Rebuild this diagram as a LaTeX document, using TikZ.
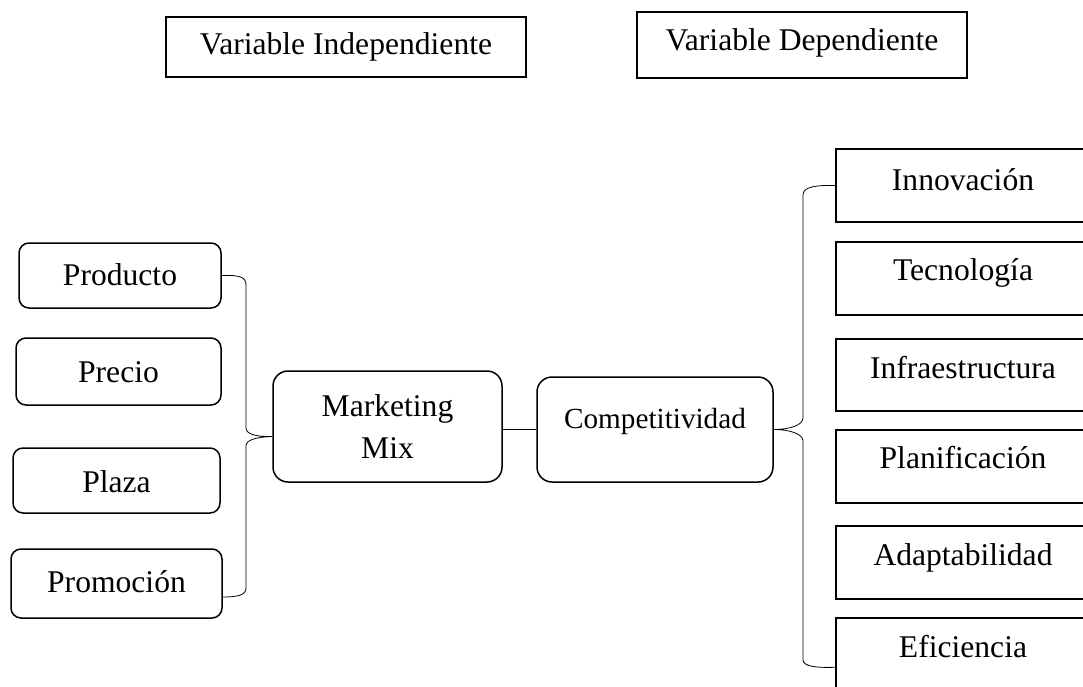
\documentclass[tikz,border=0pt]{standalone}
\usepackage{fontspec}
\setmainfont{Liberation Serif}
\begin{document}
\begin{tikzpicture}[x=1pt, y=-1pt,
  bx/.style={draw, line width=1.5pt, inner sep=0pt, anchor=base,
             font=\fontsize{31.6}{42}\selectfont},
  rbx/.style={bx, rounded corners=10pt},
  brc/.style={draw, line width=0.8pt},
  link/.style={draw, line width=0.9pt}]
\useasboundingbox (0,0) rectangle (1083,687);
\clip (0,0) rectangle (1083,687);

% headings
\node[bx, minimum width=360pt, text height=38pt, text depth=22pt] (vind) at (346,55) {Variable Independiente};
\node[bx, minimum width=330pt, text height=39pt, text depth=27pt] (vdep) at (802,51) {Variable Dependiente};

% marketing mix components
\node[rbx, minimum width=202pt, text height=42pt, text depth=23pt] (prod) at (120,285) {Producto};
\node[rbx, minimum width=205pt, text height=44pt, text depth=23pt] (prec) at (118.5,382) {Precio};
\node[rbx, minimum width=207pt, text height=44pt, text depth=21pt] (plaz) at (116.5,492) {Plaza};
\node[rbx, minimum width=211pt, text height=43pt, text depth=26pt] (prom) at (116.5,592) {Promoción};

% central concepts
\node[draw, line width=1.5pt, rounded corners=15pt, inner sep=0pt, align=center,
      minimum width=229pt, minimum height=111pt,
      font=\fontsize{31.6}{42}\selectfont] (mm) at (387.5,426.5) {Marketing\\Mix};
\node[bx, rounded corners=15pt, minimum width=236pt, text height=51pt, text depth=54pt,
      font=\fontsize{29.2}{42}\selectfont] (comp) at (655,428) {Competitividad};

% competitiveness dimensions
\node[bx, minimum width=254pt, text height=41pt, text depth=32pt] (inno) at (963,190) {Innovación};
\node[bx, minimum width=254pt, text height=38pt, text depth=35pt] (tecn) at (963,280) {Tecnología};
\node[bx, minimum width=254pt, text height=39pt, text depth=33pt] (infr) at (963,378) {Infraestructura};
\node[bx, minimum width=254pt, text height=38pt, text depth=35pt] (plan) at (963,468) {Planificación};
\node[bx, minimum width=254pt, text height=39pt, text depth=34pt] (adap) at (963,565) {Adaptabilidad};
\node[bx, minimum width=254pt, text height=39pt, text depth=43pt] (efic) at (963,657) {Eficiencia};

% brace end points
\coordinate (ltip) at ([yshift=-10pt]mm.west);
\coordinate (lend) at ([yshift=-13.5pt]prom.east);
\coordinate (rend) at ([yshift=-50pt]efic.north west);

% left brace
\draw[brc] (prod.east) .. controls (240,275) and (246,277) .. (246,285)
  -- (246,428) .. controls (246,434) and (256,437) .. (ltip)
  .. controls (256,437) and (246,440) .. (246,446)
  -- (246,588) .. controls (246,595) and (238,597) .. (lend);

% link between the two variables
\draw[link] ([yshift=-3pt]mm.east) -- (comp.west);

% right brace
\draw[brc] (inno.west) .. controls (815,185) and (803,187) .. (803,195)
  -- (803,418) .. controls (803,425) and (790,429.5) .. (comp.east)
  .. controls (790,429.5) and (803,434) .. (803,441)
  -- (803,660) .. controls (803,666) and (815,668) .. (rend);
\end{tikzpicture}
\end{document}
